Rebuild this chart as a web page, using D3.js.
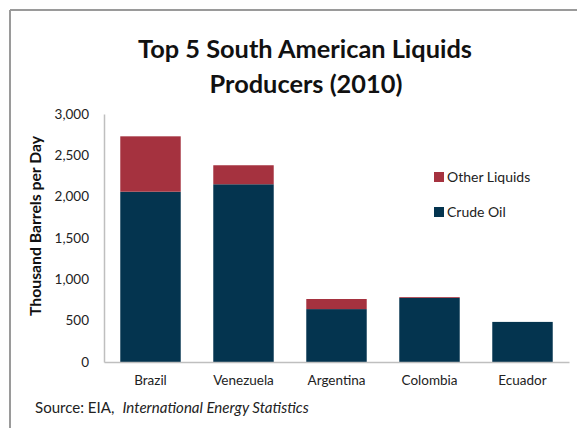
<!DOCTYPE html>
<html>
<head>
<meta charset="utf-8">
<script src="https://cdn.jsdelivr.net/npm/d3@7"></script>
<style>
  html, body { margin: 0; padding: 0; background: #fff; }
  svg { display: block; }
  text { font-family: Lato, "Open Sans", sans-serif; }
</style>
</head>
<body>
<svg id="chart" width="577" height="428"></svg>
<script>
const categories = ["Brazil", "Venezuela", "Argentina", "Colombia", "Ecuador"];
const crudeOil = [2060, 2150, 640, 775, 485];
const otherLiquids = [670, 230, 122, 10, 0];
const yTicks = [0, 500, 1000, 1500, 2000, 2500, 3000];
const seriesNames = ["Crude Oil", "Other Liquids"];
const colors = { "Crude Oil": "#04344f", "Other Liquids": "#a5323f" };

const svg = d3.select("#chart");

function fitText(sel, target) {
  const len = sel.node().getComputedTextLength();
  const fs = parseFloat(sel.attr("font-size"));
  sel.attr("font-size", fs * target / len);
}

// border (top and left gray lines)
svg.append("line").attr("x1", 10).attr("x2", 577).attr("y1", 10).attr("y2", 10)
  .attr("stroke", "#9a9a9a").attr("stroke-width", 2);
svg.append("line").attr("x1", 10).attr("x2", 10).attr("y1", 10).attr("y2", 428)
  .attr("stroke", "#9a9a9a").attr("stroke-width", 2);

const x0 = 104, x1 = 569, yTop = 114, yBase = 362;
const x = d3.scaleBand().domain(categories).range([x0, x1]).paddingInner(0.35).paddingOuter(0.175);
const y = d3.scaleLinear().domain([0, 3000]).range([yBase, yTop]);

const rows = categories.map((c, i) => ({ cat: c, "Crude Oil": crudeOil[i], "Other Liquids": otherLiquids[i] }));
const stacked = d3.stack().keys(seriesNames)(rows);

svg.append("g").selectAll("g").data(stacked).join("g")
  .attr("fill", d => colors[d.key])
  .selectAll("rect").data(d => d).join("rect")
  .attr("x", d => x(d.data.cat))
  .attr("width", x.bandwidth())
  .attr("y", d => y(d[1]))
  .attr("height", d => y(d[0]) - y(d[1]));

// y axis
const yAxis = svg.append("g").attr("transform", `translate(${x0},0)`)
  .call(d3.axisLeft(y).tickValues(yTicks).tickFormat(d3.format(",")).tickSize(0).tickPadding(15));
yAxis.select(".domain").attr("stroke", "#bfbfbf").attr("stroke-width", 1.5);
yAxis.selectAll("text").attr("font-size", 13.5).attr("fill", "#222").attr("font-family", "Lato, sans-serif");

// x axis
const xAxis = svg.append("g").attr("transform", `translate(0,${yBase})`)
  .call(d3.axisBottom(x).tickSize(0).tickPadding(13));
xAxis.select(".domain").attr("stroke", "#bfbfbf").attr("stroke-width", 1.5);
xAxis.selectAll("text").attr("font-size", 13.5).attr("fill", "#222").attr("font-family", "Lato, sans-serif");

// y label
const yl = svg.append("text")
  .attr("transform", "translate(41,226) rotate(-90)")
  .attr("text-anchor", "middle")
  .attr("font-size", 13).attr("font-weight", "bold").attr("fill", "#111")
  .text("Thousand Barrels per Day");
fitText(yl, 180);

// title
const t1 = svg.append("text").attr("x", 305).attr("y", 58).attr("text-anchor", "middle")
  .attr("font-size", 26).attr("font-weight", "bold").attr("fill", "#111")
  .text("Top 5 South American Liquids");
fitText(t1, 334);
const t2 = svg.append("text").attr("x", 306).attr("y", 93).attr("text-anchor", "middle")
  .attr("font-size", t1.attr("font-size")).attr("font-weight", "bold").attr("fill", "#111")
  .text("Producers (2010)");

// legend
const legendItems = [
  { name: "Other Liquids", y: 177 },
  { name: "Crude Oil", y: 212 }
];
const lg = svg.append("g").selectAll("g").data(legendItems).join("g")
  .attr("transform", d => `translate(434,${d.y})`);
lg.append("rect").attr("x", 0).attr("y", -5).attr("width", 10).attr("height", 10)
  .attr("fill", d => colors[d.name]);
lg.append("text").attr("x", 13).attr("y", 5).attr("font-size", 14).attr("fill", "#222")
  .text(d => d.name);

// source
const src = svg.append("text").attr("x", 35).attr("y", 413).attr("font-size", 15).attr("fill", "#222");
src.append("tspan").text("Source: EIA,");
src.append("tspan").attr("dx", 8).attr("font-style", "italic").text("International Energy Statistics");
fitText(src, 266);
</script>
</body>
</html>
